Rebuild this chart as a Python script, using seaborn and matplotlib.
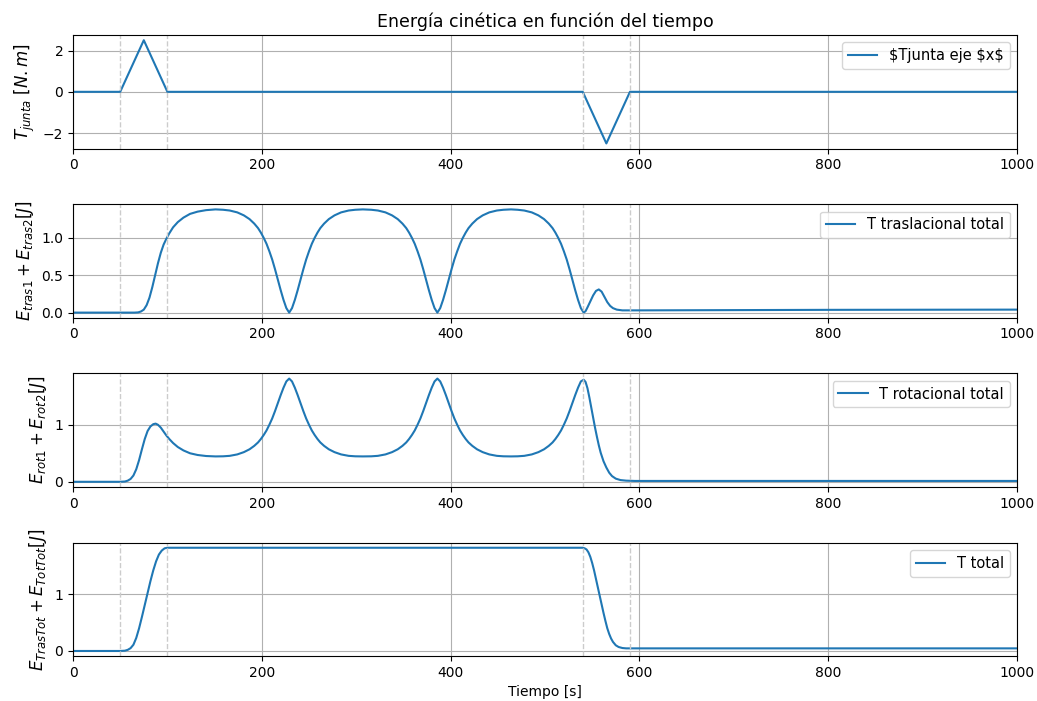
# librerias
import numpy as np
import pandas as pd
import seaborn as sns
import matplotlib.pyplot as plt

# par en la junta
t_par = [0, 50, 75, 100, 540, 565, 590, 1000]
par = [0, 0, 2.5, 0, 0, -2.5, 0, 0]

# energia traslacional total
t_tras = [0, 50, 65, 69, 72, 75, 78, 81, 84, 87, 90, 93, 96, 99, 102, 106, 111, 117, 124, 132, 141,
          151, 159, 166, 174, 181, 187, 192, 196, 199, 202, 205, 208, 211, 214, 217, 220, 223, 226, 229,
          232, 235, 238, 241, 244, 247, 250, 253, 256, 259, 262, 266, 271, 277, 284, 292, 299, 307,
          316, 323, 331, 338, 344, 349, 353, 356, 359, 362, 365, 368, 371, 374, 377, 380, 383, 386,
          389, 392, 395, 398, 401, 404, 407, 410, 413, 416, 419, 423, 428, 434, 441, 449, 456, 464,
          471, 478, 486, 493, 499, 504, 508, 511, 514, 517, 520, 523, 526, 529, 532, 535, 538, 541,
          543, 545, 548, 551, 554, 557, 560, 563, 566, 569, 572, 576, 582, 600, 700, 800, 900, 1000]
e_tras = [0, 0, 0, 0.003, 0.015, 0.04, 0.1, 0.2, 0.34, 0.5, 0.66, 0.8, 0.91, 0.99, 1.06, 1.14, 1.21,
          1.27, 1.32, 1.35, 1.37,
          1.38, 1.375, 1.365, 1.34, 1.3, 1.25, 1.19, 1.13, 1.07, 1.0, 0.92, 0.82, 0.71, 0.58, 0.44,
          0.3, 0.17, 0.06, 0.0,
          0.06, 0.17, 0.3, 0.44, 0.58, 0.71, 0.82, 0.92, 1.0, 1.07, 1.13, 1.19, 1.25, 1.3, 1.34,
          1.365, 1.375, 1.38,
          1.375, 1.365, 1.34, 1.3, 1.25, 1.19, 1.13, 1.07, 1.0, 0.92, 0.82, 0.71, 0.58, 0.44, 0.3,
          0.17, 0.06, 0.0,
          0.06, 0.17, 0.3, 0.44, 0.58, 0.71, 0.82, 0.92, 1.0, 1.07, 1.13, 1.19, 1.25, 1.3, 1.34,
          1.365, 1.375, 1.38,
          1.375, 1.365, 1.34, 1.3, 1.25, 1.19, 1.13, 1.07, 1.0, 0.92, 0.82, 0.71, 0.58, 0.44, 0.3,
          0.17, 0.06, 0.0,
          0.02, 0.07, 0.15, 0.23, 0.29, 0.31, 0.28, 0.21, 0.14, 0.09, 0.06, 0.04, 0.03, 0.03, 0.034,
          0.037, 0.039, 0.04]

# energia rotacional total
t_rot = [0, 50, 55, 58, 61, 64, 67, 70, 73, 76, 79, 82, 85, 87.5, 90, 93, 96, 99, 102, 106, 111,
         117, 124, 132, 141,
         151, 159, 166, 174, 181, 187, 192, 196, 199, 202, 205, 208, 211, 214, 217, 220, 223, 226, 229,
         232, 235, 238, 241, 244, 247, 250, 253, 256, 259, 262, 266, 271, 277, 284, 292, 299, 307,
         316, 323, 331, 338, 344, 349, 353, 356, 359, 362, 365, 368, 371, 374, 377, 380, 383, 386,
         389, 392, 395, 398, 401, 404, 407, 410, 413, 416, 419, 423, 428, 434, 441, 449, 456, 464,
         471, 478, 486, 493, 499, 504, 508, 511, 514, 517, 520, 523, 526, 529, 532, 535, 538, 541,
         543, 545, 547, 549, 551, 553, 555, 557, 559, 562, 565, 568, 571, 575, 580, 586, 595, 1000]
e_rot = [0, 0, 0.005, 0.02, 0.05, 0.11, 0.22, 0.38, 0.57, 0.75, 0.89, 0.97, 1.01, 1.02, 1.0, 0.95,
         0.88, 0.81, 0.75, 0.68, 0.61, 0.55, 0.5, 0.47, 0.452,
         0.445, 0.447, 0.455, 0.48, 0.52, 0.57, 0.63, 0.69, 0.75, 0.82, 0.9, 1.0, 1.11, 1.24, 1.38,
         1.52, 1.65, 1.76, 1.81,
         1.76, 1.65, 1.52, 1.38, 1.24, 1.11, 1.0, 0.9, 0.82, 0.75, 0.69, 0.63, 0.57, 0.52, 0.48,
         0.455, 0.447, 0.445,
         0.447, 0.455, 0.48, 0.52, 0.57, 0.63, 0.69, 0.75, 0.82, 0.9, 1.0, 1.11, 1.24, 1.38, 1.52,
         1.65, 1.76, 1.81,
         1.76, 1.65, 1.52, 1.38, 1.24, 1.11, 1.0, 0.9, 0.82, 0.75, 0.69, 0.63, 0.57, 0.52, 0.48,
         0.455, 0.447, 0.445,
         0.447, 0.455, 0.48, 0.52, 0.57, 0.63, 0.69, 0.75, 0.82, 0.9, 1.0, 1.11, 1.24, 1.38, 1.52,
         1.65, 1.76, 1.79,
         1.75, 1.64, 1.48, 1.3, 1.12, 0.95, 0.79, 0.64, 0.51, 0.36, 0.25, 0.16, 0.1, 0.055, 0.03,
         0.02, 0.015, 0.015]

# energia total
t_tot = [0, 50, 55, 58, 61, 64, 67, 70, 73, 76, 79, 82, 85, 88, 91, 94, 97, 100, 540, 542, 544,
         546, 548, 550, 552, 554, 556, 558, 560, 562, 564, 566, 568, 570, 572, 575, 578, 582, 586, 1000]
e_tot = [0, 0, 0.005, 0.02, 0.05, 0.11, 0.23, 0.4, 0.6, 0.81, 1.02, 1.23, 1.42, 1.58, 1.7, 1.77,
         1.81, 1.82, 1.82, 1.81, 1.79, 1.74, 1.66, 1.55, 1.42, 1.27, 1.12, 0.97, 0.82, 0.67, 0.53,
         0.4, 0.3, 0.22, 0.16, 0.1, 0.07, 0.052, 0.046, 0.046]

# instantes donde cambia el par
t_marcas = [50, 100, 540, 590]

series = [
    (t_par, par, "$Tjunta eje $x$", r"$T_{junta}\ [N.m]$", None),
    (t_tras, e_tras, "T traslacional total", r"$E_{tras1} + E_{tras2} [J]$", None),
    (t_rot, e_rot, "T rotacional total", r"$E_{rot1} + E_{rot2} [J]$", [0, 1]),
    (t_tot, e_tot, "T total", r"$E_{TrasTot} + E_{TotTot} [J]$", [0, 1]),
]

fig, axs = plt.subplots(4, 1, figsize=(10.37, 7.01), dpi=100)
fig.subplots_adjust(left=0.0704, right=0.9807, top=0.950, bottom=0.064, hspace=0.49)

for ax, (t, y, etiqueta, ylab, yt) in zip(axs, series):
    df = pd.DataFrame({"t": t, "y": y})
    sns.lineplot(data=df, x="t", y="y", ax=ax, label=etiqueta, color="#1f77b4", linewidth=1.5)
    for tm in t_marcas:
        ax.axvline(tm, color="0.8", linestyle="--", linewidth=1)
    ax.set_xlim(0, 1000)
    if yt is not None:
        ax.set_yticks(yt)
    ax.grid(True)
    ax.set_ylabel(ylab, fontsize=12)
    ax.set_xlabel("")
    ax.legend(loc="upper right", fontsize=10.5)

axs[0].set_title("Energía cinética en función del tiempo", fontsize=12.5)
axs[3].set_xlabel("Tiempo [s]")

plt.savefig("out.png", dpi=100)
